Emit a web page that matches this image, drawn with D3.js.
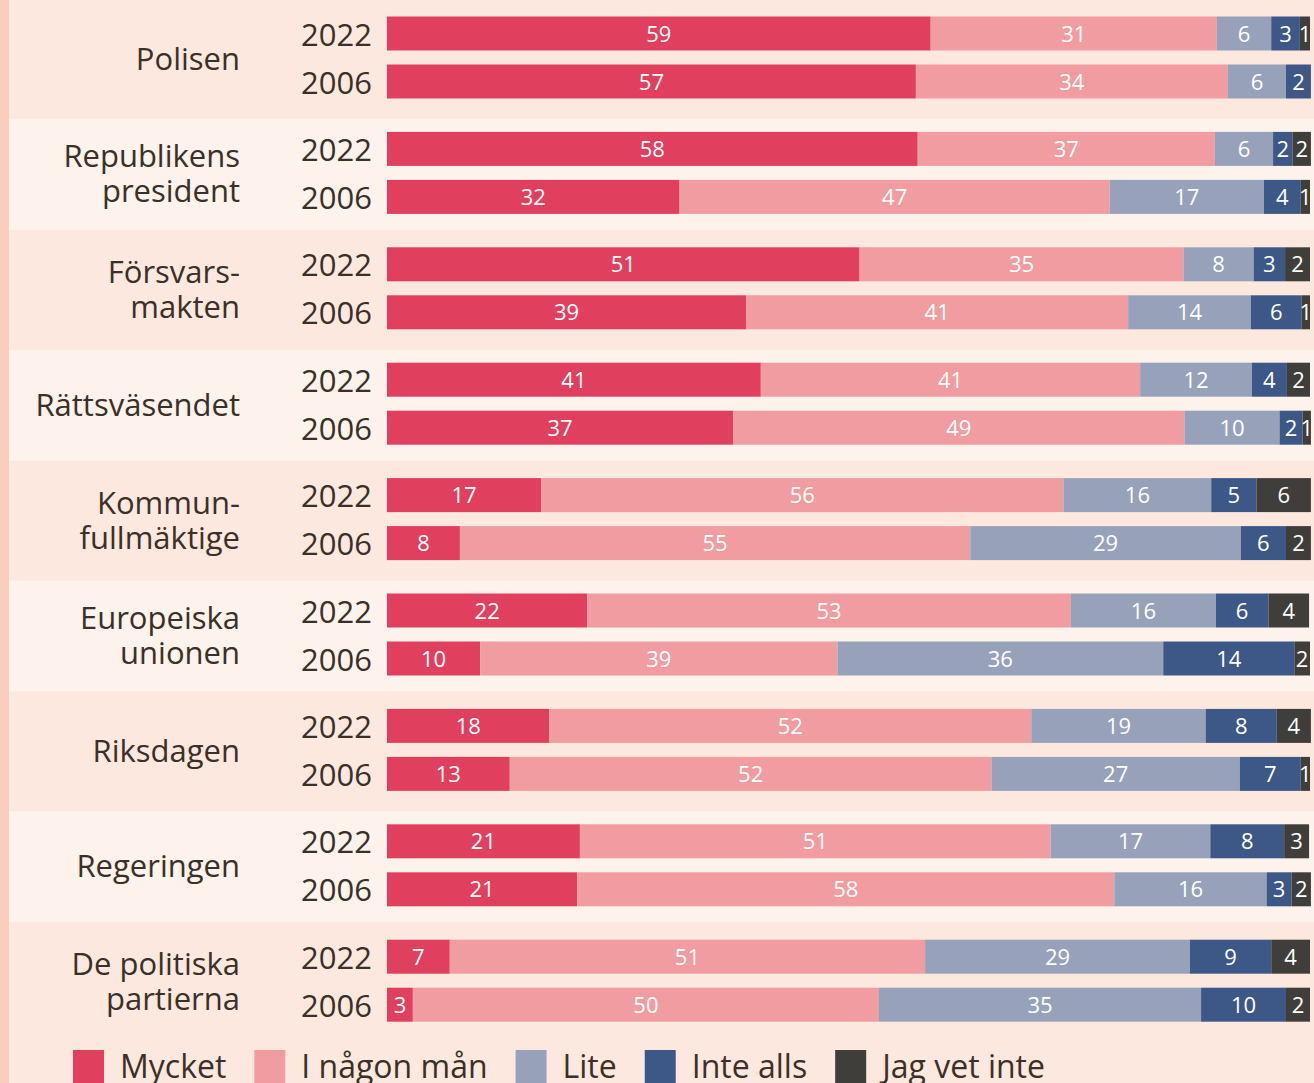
<!DOCTYPE html>
<html>
<head>
<meta charset="utf-8">
<script src="https://cdn.jsdelivr.net/npm/d3@7"></script>
<style>
  body { margin: 0; background: #fde8df; }
  svg { display: block; font-family: "Open Sans", sans-serif; }
</style>
</head>
<body>
<div id="chart"></div>
<script>
// institutions, two survey years each
const groups = ["Polisen", "Republikens\npresident", "Försvars-\nmakten", "Rättsväsendet",
                "Kommun-\nfullmäktige", "Europeiska\nunionen", "Riksdagen", "Regeringen", "De politiska\npartierna"];
const years = ["2022", "2006"];
const responses = ["Mycket", "I någon mån", "Lite", "Inte alls", "Jag vet inte"];
const colors = ["#e0405e", "#f09ca1", "#98a1ba", "#3d5787", "#403e3b"];

// shares (bar lengths), order: group x year (2022, 2006)
const mycket   = [58.9,57.3, 57.5,31.7, 51.2,38.9, 40.5,37.5, 16.7,7.9, 21.7,10.1, 17.6,13.3, 20.9,20.6, 6.8,2.8];
const nagonMan = [31.0,33.8, 32.2,46.6, 35.1,41.4, 41.1,48.9, 56.6,55.3, 52.4,38.7, 52.2,52.2, 51.0,58.2, 51.5,50.5];
const lite     = [5.9,6.3, 6.3,16.7, 7.6,13.3, 12.1,10.3, 16.0,29.3, 15.7,35.3, 18.9,26.9, 17.3,16.5, 28.7,34.9];
const inteAlls = [3.1,2.7, 2.1,4.0, 3.4,5.5, 3.8,2.5, 4.9,4.9, 5.7,14.2, 7.7,6.6, 8.0,2.7, 8.8,9.2];
const vetInte  = [1.1,0, 2.0,1.0, 2.7,0.9, 2.5,0.9, 5.9,2.7, 4.4,1.7, 3.7,1.0, 2.7,2.1, 4.2,2.6];

// printed numbers in the bars
const mycketLbl   = [59,57, 58,32, 51,39, 41,37, 17,8, 22,10, 18,13, 21,21, 7,3];
const nagonManLbl = [31,34, 37,47, 35,41, 41,49, 56,55, 53,39, 52,52, 51,58, 51,50];
const liteLbl     = [6,6, 6,17, 8,14, 12,10, 16,29, 16,36, 19,27, 17,16, 29,35];
const inteAllsLbl = [3,2, 2,4, 3,6, 4,2, 5,6, 6,14, 8,7, 8,3, 9,10];
const vetInteLbl  = [1,null, 2,1, 2,1, 2,1, 6,2, 4,2, 4,1, 3,2, 4,2];

const seriesVals = [mycket, nagonMan, lite, inteAlls, vetInte];
const seriesLbls = [mycketLbl, nagonManLbl, liteLbl, inteAllsLbl, vetInteLbl];

const width = 1314, height = 1083;
const textColor = "#3b2f26";

const svg = d3.select("#chart").append("svg")
    .attr("width", width)
    .attr("height", height);

// background
svg.append("rect").attr("width", width).attr("height", height).attr("fill", "#fde8df");

const x = d3.scaleLinear().domain([0, 100]).range([387, 1310]);
const yGroup = d3.scaleBand().domain(groups).range([1.5, 1.5 + 115.4 * groups.length]);
const yYear = d3.scaleBand().domain(years).range([15, 97]).paddingInner(14 / 48);

// lighter bands for every second group
svg.selectAll("rect.band")
    .data(groups.filter((g, i) => i % 2 === 1))
    .join("rect")
    .attr("class", "band")
    .attr("x", 9)
    .attr("width", width - 9)
    .attr("y", d => yGroup(d) + yYear("2022") - 13)
    .attr("height", 111)
    .attr("fill", "#fdf2ec");

svg.append("rect").attr("x", 0).attr("y", 0).attr("width", 9).attr("height", height).attr("fill", "#fbcdbd");

// build flat records
const rows = [];
groups.forEach((g, gi) => {
    years.forEach((yr, yi) => {
        const idx = gi * 2 + yi;
        let acc = 0;
        responses.forEach((r, ri) => {
            const v = seriesVals[ri][idx];
            rows.push({group: g, year: yr, resp: ri, x0: acc, x1: acc + v, label: seriesLbls[ri][idx]});
            acc += v;
        });
    });
});

const segs = rows.filter(d => d.x1 - d.x0 > 0);
const rowY = d => yGroup(d.group) + yYear(d.year);

svg.selectAll("rect.seg")
    .data(segs)
    .join("rect")
    .attr("class", "seg")
    .attr("x", d => x(d.x0))
    .attr("width", d => x(d.x1) - x(d.x0))
    .attr("y", rowY)
    .attr("height", yYear.bandwidth())
    .attr("fill", d => colors[d.resp]);

svg.selectAll("text.val")
    .data(segs.filter(d => d.label != null))
    .join("text")
    .attr("class", "val")
    .attr("x", d => (x(d.x0) + x(d.x1)) / 2)
    .attr("y", d => rowY(d) + yYear.bandwidth() / 2 + 8)
    .attr("text-anchor", "middle")
    .attr("font-size", "22px")
    .attr("fill", "#fff")
    .text(d => d.label);

// year labels
groups.forEach(g => {
    years.forEach(yr => {
        svg.append("text")
            .attr("x", 372)
            .attr("y", yGroup(g) + yYear(yr) + yYear.bandwidth() / 2 + 12)
            .attr("text-anchor", "end")
            .attr("font-size", "31px")
            .attr("fill", textColor)
            .text(yr);
    });
});

// group labels
svg.selectAll("text.grp")
    .data(groups)
    .join("text")
    .attr("class", "grp")
    .attr("text-anchor", "end")
    .attr("font-size", "31px")
    .attr("fill", textColor)
    .each(function(d) {
        const lines = d.split("\n");
        const cy = yGroup(d) + (yYear("2022") + yYear("2006") + yYear.bandwidth()) / 2 + 12;
        const t = d3.select(this);
        lines.forEach((ln, i) => {
            t.append("tspan")
                .attr("x", 240)
                .attr("y", cy + (i - (lines.length - 1) / 2) * 35)
                .text(ln);
        });
    });

// legend
const legend = svg.append("g").attr("transform", "translate(73,1050)");
let lx = 0;
responses.forEach((r, i) => {
    const item = legend.append("g").attr("transform", `translate(${lx},0)`);
    item.append("rect").attr("width", 31).attr("height", 34).attr("fill", colors[i]);
    const t = item.append("text")
        .attr("x", 47)
        .attr("y", 28)
        .attr("font-size", "32px")
        .attr("fill", textColor)
        .text(r);
    lx += 47 + t.node().getComputedTextLength() + 28;
});
</script>
</body>
</html>
